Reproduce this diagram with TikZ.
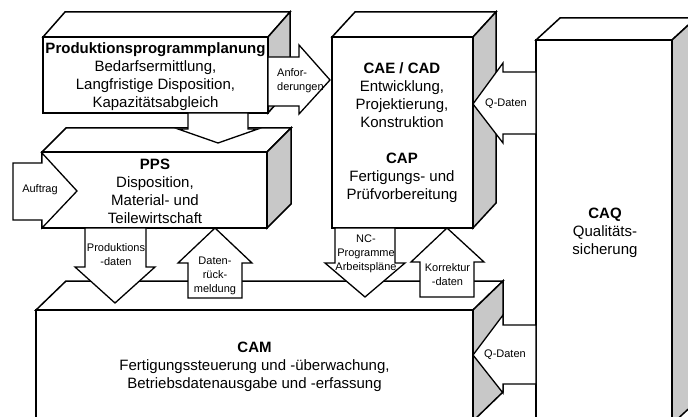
\documentclass[tikz,border=0pt]{standalone}
\usepackage{fontspec}
\setmainfont{Liberation Sans}
\definecolor{sidegray}{RGB}{200,200,200}
\tikzset{
  face/.style={draw=black, line width=1.5pt, fill=white, line join=miter},
  sideface/.style={draw=black, line width=1.5pt, fill=sidegray, line join=miter},
  blockarrow/.style={draw=black, line width=1.3pt, fill=white, line join=miter},
  bigtext/.style={font=\fontsize{15}{18}\selectfont, align=center, inner sep=0pt},
  smalltext/.style={font=\fontsize{11}{14}\selectfont, align=center, inner sep=0pt},
}
% x1,y1 = front top-left; x2,y2 = front bottom-right; dx,dy = depth
\newcommand\quader[6]{%
  \draw[face] (#1,#2) -- ({#1+#5},{#2-#6}) -- ({#3+#5},{#2-#6}) -- (#3,#2) -- cycle;
  \draw[sideface] (#3,#2) -- ({#3+#5},{#2-#6}) -- ({#3+#5},{#4-#6}) -- (#3,#4) -- cycle;
  \draw[face] (#1,#2) rectangle (#3,#4);
}
\begin{document}
\begin{tikzpicture}[x=1pt,y=-1pt]
\useasboundingbox (0,0) rectangle (688,417);
\clip (0,0) rectangle (688,417);
\fill[white] (0,0) rectangle (688,417);

% boxes
\quader{536}{40}{672}{424}{24}{22}   % CAQ
\quader{36}{310}{473}{421}{30}{29}   % CAM
\quader{332}{37}{473}{228}{23}{25}   % CAE/CAD
\quader{42}{152}{267}{228}{24}{24}   % PPS
\quader{43}{37}{268}{113}{22}{25}    % PPP

% block arrows
% PPP -> PPS
\draw[blockarrow] (188,113) -- (188,129) -- (178,129) -- (218,143) -- (258,129) -- (248,129) -- (248,113) -- cycle;
% Anforderungen
\draw[blockarrow] (268,57) -- (299,57) -- (299,45) -- (330,80) -- (299,114) -- (299,106) -- (268,106) -- cycle;
% Auftrag
\draw[blockarrow] (13,163) -- (42,163) -- (42,153) -- (77,191) -- (42,228) -- (42,220) -- (13,220) -- cycle;
% Produktionsdaten
\draw[blockarrow] (85,228) -- (85,267) -- (75,267) -- (115,303) -- (155,267) -- (146,267) -- (146,228) -- cycle;
% Datenrueckmeldung
\draw[blockarrow] (215,228) -- (252,263) -- (242,263) -- (242,298) -- (188,298) -- (188,263) -- (178,263) -- cycle;
% NC-Programme
\draw[blockarrow] (335,228) -- (335,263) -- (325,263) -- (365,297) -- (405,263) -- (395,263) -- (395,228) -- cycle;
% Korrekturdaten
\draw[blockarrow] (447,228) -- (484,262) -- (474,262) -- (474,297) -- (420,297) -- (420,262) -- (411,262) -- cycle;
% Q-Daten (top)
\draw[blockarrow] (536,72) -- (503,72) -- (503,63) -- (473,104) -- (503,143) -- (503,134) -- (536,134) -- cycle;
% Q-Daten (bottom)
\draw[blockarrow] (536,325) -- (503,325) -- (503,315) -- (473,355) -- (503,393) -- (503,384) -- (536,384) -- cycle;

% texts
\node[bigtext] (ppp) at (155.5,77) {\textbf{Produktionsprogrammplanung}\\Bedarfsermittlung,\\Langfristige Disposition,\\Kapazitätsabgleich};
\node[bigtext] (pps) at (155,191) {\textbf{PPS}\\Disposition,\\Material- und\\Teilewirtschaft};
\node[bigtext] (cae) at (402,133) {\textbf{CAE / CAD}\\Entwicklung,\\Projektierung,\\Konstruktion\\[18pt]\textbf{CAP}\\Fertigungs- und\\Prüfvorbereitung};
\node[bigtext] (caq) at (605,233) {\textbf{CAQ}\\Qualitäts-\\sicherung};
\node[bigtext] (cam) at (254.5,367) {\textbf{CAM}\\Fertigungssteuerung und -überwachung,\\Betriebsdatenausgabe und -erfassung};

\node[smalltext, align=left, anchor=west] (anf) at (277,80.5) {Anfor-\\derungen};
\node[smalltext] (auf) at (40,190) {Auftrag};
\node[smalltext] (prd) at (116,255) {Produktions\\-daten};
\node[smalltext] (dat) at (215,276) {Daten-\\rück-\\meldung};
\node[smalltext] (nc) at (366,253.5) {NC-\\Programme\\Arbeitspläne};
\node[smalltext] (kor) at (447.5,275) {Korrektur\\-daten};
\node[smalltext] (q1) at (506,104) {Q-Daten};
\node[smalltext] (q2) at (505,355) {Q-Daten};
\end{tikzpicture}
\end{document}
